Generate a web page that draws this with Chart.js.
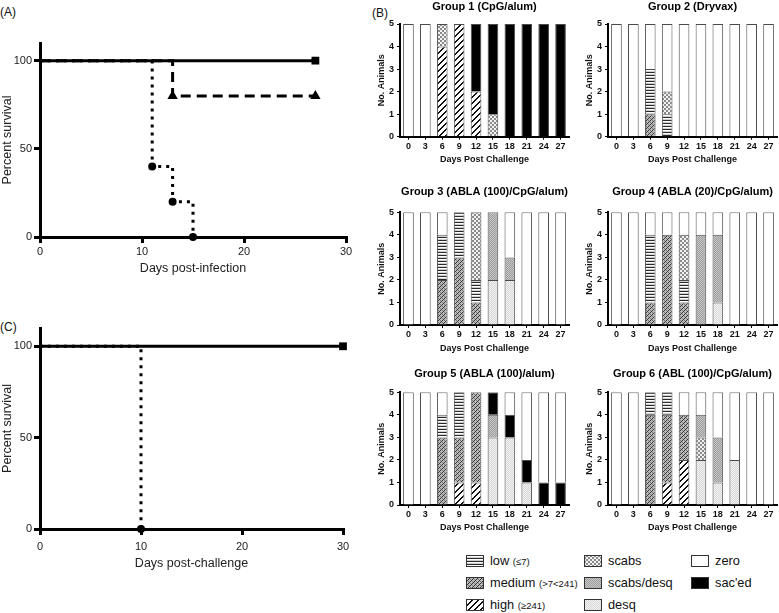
<!DOCTYPE html>
<html>
<head>
<meta charset="utf-8">
<script src="https://cdn.jsdelivr.net/npm/chart.js@4.4.1/dist/chart.umd.min.js"></script>
<style>
html, body { margin: 0; padding: 0; background: #fff; }
body { width: 779px; height: 613px; position: relative; overflow: hidden; font-family: "Liberation Sans", Arial, sans-serif; color: #111; }
canvas.c { position: absolute; }
.lbl { position: absolute; font-size: 12px; line-height: 14px; }
.leg { position: absolute; font-size: 12.8px; line-height: 14px; white-space: nowrap; }
.leg small { font-size: 9.5px; }
.sw { position: absolute; }
</style>
</head>
<body>
<div class="lbl" style="left:0;top:5px">(A)</div>
<div class="lbl" style="left:372px;top:6px">(B)</div>
<div class="lbl" style="left:0;top:320px">(C)</div>

<canvas class="c" id="panelA" width="352" height="290" style="left:0;top:0"></canvas>
<canvas class="c" id="panelC" width="352" height="280" style="left:0;top:300px"></canvas>

<canvas class="c" id="g1" width="205" height="170" style="left:370px;top:0"></canvas>
<canvas class="c" id="g2" width="201" height="170" style="left:578px;top:0"></canvas>
<canvas class="c" id="g3" width="205" height="180" style="left:370px;top:180px"></canvas>
<canvas class="c" id="g4" width="201" height="180" style="left:578px;top:180px"></canvas>
<canvas class="c" id="g5" width="205" height="185" style="left:370px;top:360px"></canvas>
<canvas class="c" id="g6" width="201" height="185" style="left:578px;top:360px"></canvas>

<div id="legend"></div>

<script>
// --- (A) survival after infection ---
const infDaysSolid = [0, 27];
const infSurvSolid = [100, 100];
const infDaysDashed = [0, 13, 27];
const infSurvDashed = [100, 80, 80];
const infDaysDotted = [0, 11, 13, 15];
const infSurvDotted = [100, 40, 20, 0];

// --- (C) survival after challenge ---
const chalDaysSolid = [0, 30];
const chalSurvSolid = [100, 100];
const chalDaysDotted = [0, 10];
const chalSurvDotted = [100, 0];

// --- (B) lesion scores per group ---
const dayLabels = ['0', '3', '6', '9', '12', '15', '18', '21', '24', '27'];
const stageNames = ['high', 'medium', 'low', 'desq', 'scabs', 'scabs/desq', "sac'ed", 'zero'];
const stageNotes = ['(≥241)', '(>7<241)', '(≤7)', '', '', '', '', ''];
const groupTitles = ['Group 1 (CpG/alum)', 'Group 2 (Dryvax)', 'Group 3 (ABLA (100)/CpG/alum)',
    'Group 4 (ABLA (20)/CpG/alum)', 'Group 5 (ABLA (100)/alum)', 'Group 6 (ABL (100)/CpG/alum)'];

// rows follow stageNames order
const group1 = [
    [0, 0, 4, 5, 2, 0, 0, 0, 0, 0],
    [0, 0, 0, 0, 0, 0, 0, 0, 0, 0],
    [0, 0, 0, 0, 0, 0, 0, 0, 0, 0],
    [0, 0, 0, 0, 0, 0, 0, 0, 0, 0],
    [0, 0, 1, 0, 0, 1, 0, 0, 0, 0],
    [0, 0, 0, 0, 0, 0, 0, 0, 0, 0],
    [0, 0, 0, 0, 3, 4, 5, 5, 5, 5],
    [5, 5, 0, 0, 0, 0, 0, 0, 0, 0]
];
const group2 = [
    [0, 0, 0, 0, 0, 0, 0, 0, 0, 0],
    [0, 0, 1, 0, 0, 0, 0, 0, 0, 0],
    [0, 0, 2, 1, 0, 0, 0, 0, 0, 0],
    [0, 0, 0, 0, 0, 0, 0, 0, 0, 0],
    [0, 0, 0, 1, 0, 0, 0, 0, 0, 0],
    [0, 0, 0, 0, 0, 0, 0, 0, 0, 0],
    [0, 0, 0, 0, 0, 0, 0, 0, 0, 0],
    [5, 5, 2, 3, 5, 5, 5, 5, 5, 5]
];
const group3 = [
    [0, 0, 0, 0, 0, 0, 0, 0, 0, 0],
    [0, 0, 2, 3, 1, 0, 0, 0, 0, 0],
    [0, 0, 2, 2, 1, 0, 0, 0, 0, 0],
    [0, 0, 0, 0, 0, 2, 2, 0, 0, 0],
    [0, 0, 0, 0, 3, 0, 0, 0, 0, 0],
    [0, 0, 0, 0, 0, 3, 1, 0, 0, 0],
    [0, 0, 0, 0, 0, 0, 0, 0, 0, 0],
    [5, 5, 1, 0, 0, 0, 2, 5, 5, 5]
];
const group4 = [
    [0, 0, 0, 0, 0, 0, 0, 0, 0, 0],
    [0, 0, 1, 4, 1, 0, 0, 0, 0, 0],
    [0, 0, 3, 0, 1, 0, 0, 0, 0, 0],
    [0, 0, 0, 0, 0, 0, 1, 0, 0, 0],
    [0, 0, 0, 0, 2, 0, 0, 0, 0, 0],
    [0, 0, 0, 0, 0, 4, 3, 0, 0, 0],
    [0, 0, 0, 0, 0, 0, 0, 0, 0, 0],
    [5, 5, 1, 1, 1, 1, 1, 5, 5, 5]
];
const group5 = [
    [0, 0, 0, 1, 1, 0, 0, 0, 0, 0],
    [0, 0, 3, 2, 4, 0, 0, 0, 0, 0],
    [0, 0, 1, 2, 0, 0, 0, 0, 0, 0],
    [0, 0, 0, 0, 0, 3, 3, 1, 0, 0],
    [0, 0, 0, 0, 0, 0, 0, 0, 0, 0],
    [0, 0, 0, 0, 0, 1, 0, 0, 0, 0],
    [0, 0, 0, 0, 0, 1, 1, 1, 1, 1],
    [5, 5, 1, 0, 0, 0, 1, 3, 4, 4]
];
const group6 = [
    [0, 0, 0, 1, 2, 0, 0, 0, 0, 0],
    [0, 0, 4, 3, 2, 0, 0, 0, 0, 0],
    [0, 0, 1, 1, 0, 0, 0, 0, 0, 0],
    [0, 0, 0, 0, 0, 2, 1, 2, 0, 0],
    [0, 0, 0, 0, 0, 1, 0, 0, 0, 0],
    [0, 0, 0, 0, 0, 1, 2, 0, 0, 0],
    [0, 0, 0, 0, 0, 0, 0, 0, 0, 0],
    [5, 5, 0, 0, 1, 1, 2, 3, 5, 5]
];

Chart.defaults.font.family = '"Liberation Sans", Arial, Helvetica, sans-serif';
Chart.defaults.color = '#111';
Chart.defaults.animation = false;

// petites textures pour les barres
function makePattern(w, h, pix) {
    const c = document.createElement('canvas');
    c.width = w; c.height = h;
    const x = c.getContext('2d');
    for (let i = 0; i < w; i++) {
        for (let j = 0; j < h; j++) {
            x.fillStyle = pix(i, j);
            x.fillRect(i, j, 1, 1);
        }
    }
    return x.createPattern(c, 'repeat');
}

const stagePatterns = [
    makePattern(6, 6, (i, j) => ((i + j) % 6 < 2 ? '#111' : '#fff')),
    makePattern(4, 4, (i, j) => ((i + j) % 4 === 0 ? '#333' : ((i - j + 8) % 4 === 2 ? '#777' : '#bdbdbd'))),
    makePattern(4, 3, (i, j) => (j === 0 ? '#2a2a2a' : (j === 1 ? '#fff' : '#cfcfcf'))),
    makePattern(2, 2, (i, j) => ((i + j) % 2 ? '#d6d6d6' : '#f4f4f4')),
    makePattern(4, 4, (i, j) => (((i >> 1) + (j >> 1)) % 2 ? '#8a8a8a' : '#f2f2f2')),
    makePattern(2, 2, (i, j) => ((i + j) % 2 ? '#9c9c9c' : '#c8c8c8')),
    '#000',
    '#fff'
];

function fixBox(size, vertical) {
    return (s) => {
        if (vertical) s.width = size; else s.height = size;
        s.paddingLeft = 0; s.paddingRight = 0; s.paddingTop = 0; s.paddingBottom = 0;
    };
}

function survivalChart(id, sets, xTitle, o) {
    const axisGrid = { drawOnChartArea: false, color: '#000', lineWidth: 3, tickLength: 6 };
    const axisBorder = { display: true, color: '#000', width: 3 };
    new Chart(document.getElementById(id), {
        type: 'line',
        data: {
            datasets: sets.map(s => ({
                data: s.x.map((x, i) => ({ x: x, y: s.y[i] })),
                borderColor: '#000',
                backgroundColor: '#000',
                borderWidth: 3,
                borderDash: s.dash,
                stepped: true,
                clip: false,
                pointStyle: s.marker,
                pointRadius: s.x.map((x, i) => (i === 0 ? 0 : s.size)),
                pointBorderWidth: 0,
                pointHoverRadius: 0
            }))
        },
        options: {
            responsive: false,
            events: [],
            layout: { padding: { top: o.top, right: o.right, left: 0, bottom: 0 } },
            plugins: { legend: { display: false }, tooltip: { enabled: false } },
            scales: {
                x: {
                    type: 'linear', min: 0, max: 30,
                    afterFit: fixBox(o.xh, false),
                    ticks: { stepSize: 10, padding: o.xpad, font: { size: 11 }, color: '#222', maxRotation: 0 },
                    grid: axisGrid, border: axisBorder,
                    title: { display: true, text: xTitle, font: { size: 12.5 }, color: '#222', padding: { top: 0, bottom: o.xtpad } }
                },
                y: {
                    min: 0, max: 110,
                    afterFit: fixBox(40, true),
                    afterBuildTicks: s => { s.ticks = s.ticks.filter(t => t.value % 50 === 0); },
                    ticks: { stepSize: 50, padding: 2, font: { size: 11 }, color: '#222' },
                    grid: axisGrid, border: axisBorder,
                    title: { display: true, text: 'Percent survival', font: { size: 12.5 }, color: '#222', padding: { top: 0, bottom: 0 } }
                }
            }
        }
    });
}

survivalChart('panelA', [
    { x: infDaysSolid, y: infSurvSolid, dash: [], marker: 'rect', size: 5.5 },
    { x: infDaysDashed, y: infSurvDashed, dash: [10, 6], marker: 'triangle', size: 6 },
    { x: infDaysDotted, y: infSurvDotted, dash: [3, 5], marker: 'circle', size: 4 }
], 'Days post-infection', { top: 43, right: 2, xh: 53, xpad: 2, xtpad: 13.5 });

survivalChart('panelC', [
    { x: chalDaysSolid, y: chalSurvSolid, dash: [], marker: 'rect', size: 5.5 },
    { x: chalDaysDotted, y: chalSurvDotted, dash: [3, 5], marker: 'circle', size: 4 }
], 'Days post-challenge', { top: 28, right: 9, xh: 51, xpad: 5, xtpad: 8.5 });

function groupChart(id, title, counts, g) {
    const thinGrid = { drawOnChartArea: false, offset: false, color: '#000', lineWidth: 1, tickLength: 3 };
    const thinBorder = { display: true, color: '#000', width: 2 };
    const bold9 = { size: 9, weight: 'bold' };
    new Chart(document.getElementById(id), {
        type: 'bar',
        data: {
            labels: dayLabels,
            datasets: stageNames.map((name, k) => ({
                label: name,
                data: counts[k].map(v => v || null),
                backgroundColor: stagePatterns[k],
                borderColor: '#4a4a4a',
                borderWidth: 1,
                barPercentage: 0.63,
                categoryPercentage: 1
            }))
        },
        options: {
            responsive: false,
            events: [],
            layout: { padding: { top: 0, left: 0, right: g.right, bottom: 0 } },
            plugins: {
                legend: { display: false },
                tooltip: { enabled: false },
                title: { display: true, text: title, fullSize: false, color: '#000',
                    font: { size: 11, weight: 'bold' }, padding: { top: g.tpt, bottom: g.tpb } }
            },
            scales: {
                x: {
                    stacked: true,
                    afterFit: fixBox(g.xh, false),
                    ticks: { font: bold9, padding: 1, color: '#111', maxRotation: 0, autoSkip: false },
                    grid: thinGrid, border: thinBorder,
                    title: { display: true, text: 'Days Post Challenge', font: bold9, color: '#111', padding: { top: 0, bottom: g.xtp } }
                },
                y: {
                    stacked: true, min: 0, max: 5,
                    afterFit: fixBox(30, true),
                    ticks: { stepSize: 1, font: bold9, padding: 3, color: '#111' },
                    grid: thinGrid, border: thinBorder,
                    title: { display: true, text: 'No. Animals', font: bold9, color: '#111', padding: { top: 6.6, bottom: 0 } }
                }
            }
        }
    });
}

const rowGeom = [
    { tpt: 0.1, tpb: 10.7, xh: 33.3, xtp: 4.6 },
    { tpt: 5.4, tpb: 13.7, xh: 35, xtp: 6.3 },
    { tpt: 7.4, tpb: 11.7, xh: 40, xtp: 11.6 }
];
const groups = [group1, group2, group3, group4, group5, group6];
groups.forEach((counts, n) => {
    const row = rowGeom[Math.floor(n / 2)];
    const right = n % 2 === 0 ? 6 : 2;
    groupChart('g' + (n + 1), groupTitles[n], counts, Object.assign({ right: right }, row));
});

// légende en bas à droite
const legendOrder = [2, 1, 0, 4, 5, 3, 7, 6];
const legendCols = [466, 584, 691];
const legendRows = [560.7, 583.3, 605];
const legend = document.getElementById('legend');
legendOrder.forEach((k, n) => {
    const col = Math.floor(n / 3);
    const y = legendRows[n % 3];
    const sw = document.createElement('canvas');
    sw.className = 'sw';
    sw.width = 18; sw.height = 12;
    sw.style.left = legendCols[col] + 'px';
    sw.style.top = (y - 6) + 'px';
    const cx = sw.getContext('2d');
    cx.fillStyle = stagePatterns[k];
    cx.fillRect(0, 0, 18, 12);
    cx.strokeStyle = '#333';
    cx.lineWidth = 1;
    cx.strokeRect(0.5, 0.5, 17, 11);
    legend.appendChild(sw);
    const t = document.createElement('div');
    t.className = 'leg';
    t.style.left = (legendCols[col] + 24) + 'px';
    t.style.top = (y - 7) + 'px';
    t.innerHTML = stageNames[k] + (stageNotes[k] ? ' <small>' + stageNotes[k] + '</small>' : '');
    legend.appendChild(t);
});
</script>
</body>
</html>
